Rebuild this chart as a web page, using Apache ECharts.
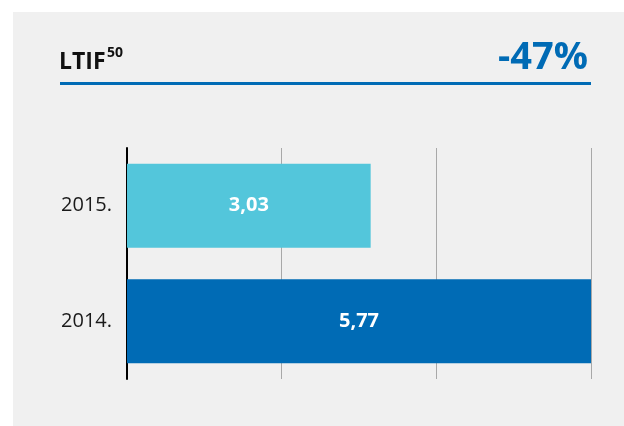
<!DOCTYPE html>
<html>
<head>
<meta charset="utf-8">
<script src="https://cdn.jsdelivr.net/npm/echarts@6/dist/echarts.min.js"></script>
<style>
  html, body { margin: 0; padding: 0; background: #ffffff; }
  #panel { position: absolute; left: 13px; top: 12px; right: 0; bottom: 0; background: #f0f0f0; }
  #chart { position: absolute; left: 0; top: 0; width: 624px; height: 426px; }
</style>
</head>
<body>
<div id="panel"></div>
<div id="chart"></div>
<script>
// data
const years = ['2015.', '2014.']
const ltifValues = [3.03, 5.77]
const barColors = ['#53c6db', '#006bb5']
const titleText = 'LTIF'
const titleSup = '50'
const changeText = '-47%'

const axisMax = 5.77

const chart = echarts.init(document.getElementById('chart'))

const option = {
  backgroundColor: 'transparent',
  textStyle: { fontFamily: 'Open Sans' },
  title: [
    {
      text: titleText,
      left: 54, top: 46,
      textStyle: { fontFamily: 'Open Sans', fontWeight: 'bold', fontSize: 23, color: '#111' }
    },
    {
      text: titleSup,
      left: 102, top: 41,
      textStyle: { fontFamily: 'Open Sans', fontWeight: 'bold', fontSize: 14, color: '#111' }
    },
    {
      text: changeText,
      right: 31, top: 34,
      textStyle: { fontFamily: 'Open Sans', fontWeight: 'bold', fontSize: 38, color: '#006bb5' }
    }
  ],
  graphic: [
    {
      type: 'rect',
      shape: { x: 60, y: 82, width: 531, height: 3 },
      style: { fill: '#006bb5' }
    }
  ],
  grid: { left: 127, right: 33, top: 148, bottom: 47 },
  xAxis: {
    type: 'value',
    min: 0,
    max: axisMax,
    interval: axisMax / 3,
    axisLine: { show: false },
    axisTick: { show: false },
    axisLabel: { show: false },
    splitLine: { lineStyle: { color: '#a8a8a8', width: 1 } }
  },
  yAxis: {
    type: 'category',
    data: years,
    inverse: true,
    axisLine: { lineStyle: { color: '#000', width: 2 } },
    axisTick: { show: false },
    axisLabel: { color: '#1a1a1a', fontSize: 20, margin: 15, fontFamily: 'Open Sans' }
  },
  series: [
    {
      type: 'bar',
      barWidth: 84,
      data: ltifValues.map((v, i) => ({ value: v, itemStyle: { color: barColors[i] } })),
      label: {
        show: true,
        position: 'inside',
        color: '#fff',
        fontWeight: 'bold',
        fontSize: 20,
        fontFamily: 'Open Sans',
        formatter: p => p.value.toFixed(2).replace('.', ',')
      },
      animation: false
    }
  ],
  animation: false
}

chart.setOption(option)
</script>
</body>
</html>
